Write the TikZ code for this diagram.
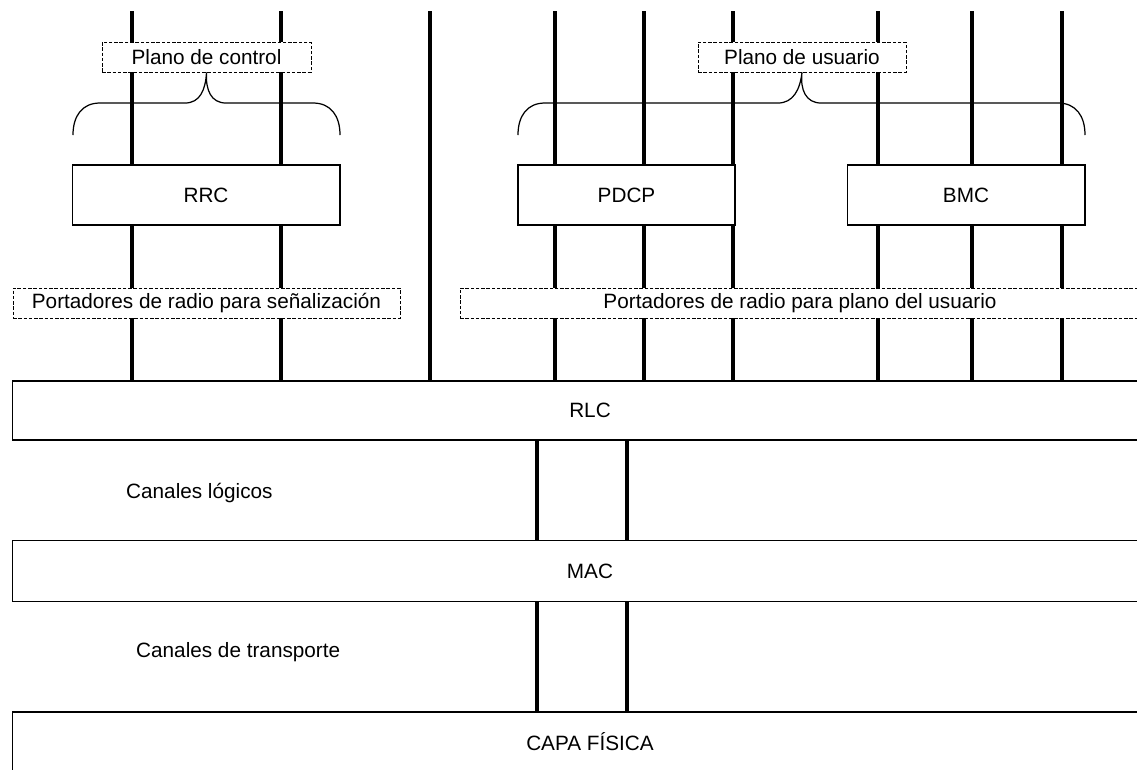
\documentclass[tikz,border=0pt]{standalone}
\usepackage{fontspec}
\setmainfont{Liberation Sans}
\usetikzlibrary{backgrounds}
\begin{document}
\begin{tikzpicture}
[
	x=0.02cm,y=-0.02cm,
	font=\fontsize{11.8}{13}\selectfont,
	layerbox/.style={rectangle,draw,fill=white,line width=0.6pt,inner sep=0pt,minimum height=1.2cm},
	planebox/.style={rectangle,draw,dashed,dash pattern=on 2pt off 1pt,fill=white,line width=0.5pt,inner sep=0pt,minimum height=0.6cm},
	bearer/.style={line width=2.4pt},
	brace/.style={line width=0.7pt}
]

	\clip (0,0) rectangle (1137,769);

	% protocol layers
	\node[layerbox,minimum width=5.36cm] at (206,195) (rrc) {RRC};
	\node[layerbox,minimum width=4.34cm] at (626.5,195) (pdcp) {PDCP};
	\node[layerbox,minimum width=4.76cm] at (966,195) (bmc) {BMC};
	\node[layerbox,minimum width=23.12cm,minimum height=1.18cm] at (590,410.5) (rlc) {RLC};
	\node[layerbox,minimum width=23.12cm,minimum height=1.22cm] at (590,571) (mac) {MAC};
	\node[layerbox,minimum width=23.12cm] at (590,742) (phy) {CAPA FÍSICA};

	% dashed labels
	\node[planebox,minimum width=4.18cm] at (206.5,57) (ctrl) {Plano de control};
	\node[planebox,minimum width=4.16cm] at (802,57) (user) {Plano de usuario};
	\node[planebox,minimum width=7.74cm] at (206.5,303) (srb) {Portadores de radio para señalización};
	\node[planebox,minimum width=13.6cm] at (800,303) (urb) {Portadores de radio para plano del usuario};

	\node[anchor=west] at (120,493) (logch) {Canales lógicos};
	\node[anchor=west] at (130,652) (trch) {Canales de transporte};

	% bearers
	\begin{pgfonlayer}{background}
		\foreach \x [count=\i] in {132,281,430,555,644,733,878,972,1062} {
			\coordinate (top\i) at (\x,11);
			\draw[bearer] (top\i) -- (top\i |- rlc.north);
		}
		\foreach \x/\n in {537/a,627/b} {
			\coordinate (ch\n) at (\x,440);
			\draw[bearer] (ch\n |- rlc.south) -- (ch\n |- mac.north);
			\draw[bearer] (ch\n |- mac.south) -- (ch\n |- phy.north);
		}
	\end{pgfonlayer}

	% braces
	\draw[brace] (73,135) .. controls (73,116) and (82,103) .. (100,103) -- (185,103)
		.. controls (200,103) and (205.5,90) .. (ctrl.south)
		.. controls (205.5,90) and (211,103) .. (226,103) -- (313,103)
		.. controls (331,103) and (340,116) .. (340,135);
	\draw[brace] (518,135) .. controls (518,116) and (527,103) .. (545,103) -- (778,103)
		.. controls (793,103) and (800,90) .. (user.south)
		.. controls (800,90) and (806,103) .. (821,103) -- (1058,103)
		.. controls (1076,103) and (1085,116) .. (1085,135);

\end{tikzpicture}
\end{document}
